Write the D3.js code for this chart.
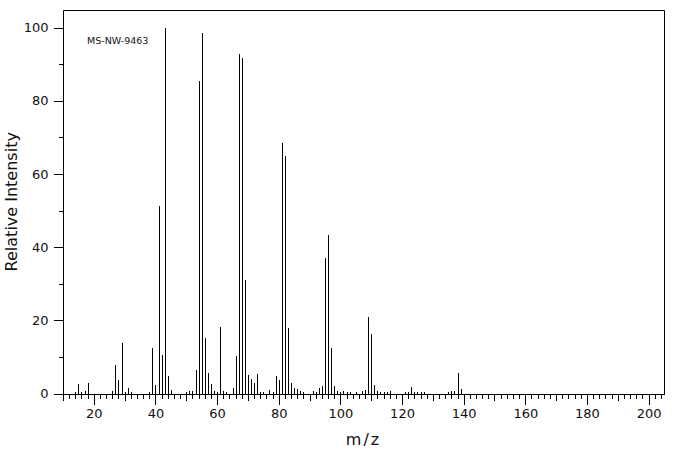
<!DOCTYPE html>
<html>
<head>
<meta charset="utf-8">
<title>Mass spectrum MS-NW-9463</title>
<style>
  body { margin: 0; background: #fff; }
  svg text { font-family: "DejaVu Sans", sans-serif; fill: #111; }
</style>
<script src="https://cdnjs.cloudflare.com/ajax/libs/d3/7.8.5/d3.min.js"></script>
</head>
<body>
<div id="chart"></div>
<script>
// peaks
const mz = [14, 15, 16, 17, 18, 26, 27, 28, 29, 30, 31, 32, 38, 39, 40, 41, 42, 43, 44, 45,
  50, 51, 52, 53, 54, 55, 56, 57, 58, 59, 60, 61, 62, 63, 65, 66, 67, 68, 69, 70,
  71, 72, 73, 74, 75, 77, 78, 79, 80, 81, 82, 83, 84, 85, 86, 87, 88, 91, 92, 93,
  94, 95, 96, 97, 98, 99, 100, 101, 102, 103, 105, 107, 108, 109, 110, 111, 112, 113, 114, 115,
  116, 121, 122, 123, 124, 125, 126, 127, 135, 136, 137, 138, 139];
const intensity = [0.5, 2.5, 0.5, 0.7, 3.0, 0.7, 7.8, 3.7, 13.8, 0.4, 1.5, 0.4, 0.4, 12.4, 2.3, 51.3, 10.5, 100, 4.8, 1.0,
  0.4, 0.6, 0.6, 6.4, 85.5, 98.4, 15.2, 5.7, 2.6, 0.7, 0.5, 18.2, 0.7, 0.4, 1.6, 10.2, 92.7, 91.6, 30.9, 5.0,
  3.9, 2.8, 5.2, 0.4, 0.4, 1.0, 0.4, 4.8, 3.7, 68.5, 64.8, 17.8, 3.0, 1.5, 1.1, 0.6, 0.3, 0.6, 0.3, 1.6,
  2.0, 37.1, 43.4, 12.4, 2.1, 0.7, 0.3, 0.6, 0.4, 0.4, 0.4, 0.6, 1.0, 21.0, 16.3, 2.3, 0.7, 0.4, 0.4, 0.4,
  0.6, 0.4, 0.4, 1.8, 0.5, 0.4, 0.4, 0.4, 0.4, 0.6, 0.7, 5.5, 1.2];

const xLabels = [20, 40, 60, 80, 100, 120, 140, 160, 180, 200];
const yLabels = [0, 20, 40, 60, 80, 100];
const sampleId = "MS-NW-9463";

const w = 676, h = 455;
const plotL = 63, plotR = 664, plotT = 10, plotB = 393.5;

const svg = d3.select("#chart").append("svg")
  .attr("width", w)
  .attr("height", h);

const xScale = d3.scaleLinear().domain([10, 205]).range([plotL, plotR]);
const yScale = d3.scaleLinear().domain([0, 100]).range([plotB, 27.5]);

const crisp = v => Math.round(v) + 0.5;

// frame (top + right), axes draw the other two sides
svg.append("path")
  .attr("d", `M${plotL + 0.5},${crisp(plotB)}V${plotT + 0.5}H${plotR + 0.5}V${crisp(plotB)}`)
  .attr("fill", "none")
  .attr("stroke", "#000");

// x axis: minor ticks every 2, medium every 10, labelled every 20
const minorX = d3.range(12, 205, 2).filter(d => d % 10 !== 0);
const midX = d3.range(10, 205, 10).filter(d => d % 20 !== 0);

function tickLayer(axis) {
  return g => {
    g.call(axis);
    g.select(".domain").remove();
    g.selectAll(".tick line").attr("stroke", "#000").attr("shape-rendering", "crispEdges");
  };
}

svg.append("g")
  .attr("transform", `translate(0,${crisp(plotB)})`)
  .call(tickLayer(d3.axisBottom(xScale).tickValues(minorX).tickSize(4).tickFormat("")));
svg.append("g")
  .attr("transform", `translate(0,${crisp(plotB)})`)
  .call(tickLayer(d3.axisBottom(xScale).tickValues(midX).tickSize(6).tickFormat("")));
const gx = svg.append("g")
  .attr("transform", `translate(0,${crisp(plotB)})`)
  .call(d3.axisBottom(xScale).tickValues(xLabels).tickSize(10).tickPadding(4).tickFormat(d3.format("d")));
gx.select(".domain").attr("d", `M${plotL},0H${plotR + 1}`).attr("stroke", "#000");
gx.selectAll(".tick line").attr("stroke", "#000").attr("shape-rendering", "crispEdges");
gx.selectAll(".tick text").attr("font-size", 13).attr("font-family", "DejaVu Sans").attr("fill", "#111");

// y axis
const gy = svg.append("g")
  .attr("transform", `translate(${plotL + 0.5},0)`)
  .call(d3.axisLeft(yScale).tickValues(yLabels).tickSize(10).tickPadding(5).tickFormat(d3.format("d")));
gy.select(".domain").remove();
gy.selectAll(".tick line").attr("stroke", "#000").attr("shape-rendering", "crispEdges");
gy.selectAll(".tick text").attr("font-size", 13).attr("font-family", "DejaVu Sans").attr("fill", "#111");
svg.append("g")
  .attr("transform", `translate(${plotL + 0.5},0)`)
  .call(tickLayer(d3.axisLeft(yScale).tickValues([10, 30, 50, 70, 90]).tickSize(5).tickFormat("")));

// peaks
const peaks = mz.map((m, i) => ({ m: m, v: intensity[i] }));
svg.append("g")
  .selectAll("line")
  .data(peaks)
  .join("line")
  .attr("x1", d => crisp(xScale(d.m)))
  .attr("x2", d => crisp(xScale(d.m)))
  .attr("y1", crisp(plotB))
  .attr("y2", d => Math.round(yScale(d.v)))
  .attr("stroke", "#000")
  .attr("stroke-width", 1)
  .attr("shape-rendering", "crispEdges");

// labels
svg.append("text")
  .attr("x", 87).attr("y", 44)
  .attr("font-family", "DejaVu Sans Mono")
  .attr("font-size", 9.5)
  .text(sampleId);

svg.append("text")
  .attr("x", (plotL + plotR) / 2).attr("y", 445)
  .attr("text-anchor", "middle")
  .attr("font-size", 16)
  .attr("letter-spacing", 2)
  .text("m/z");

svg.append("text")
  .attr("transform", `translate(17,${(plotT + plotB) / 2}) rotate(-90)`)
  .attr("text-anchor", "middle")
  .attr("font-size", 16)
  .text("Relative Intensity");
</script>
</body>
</html>
